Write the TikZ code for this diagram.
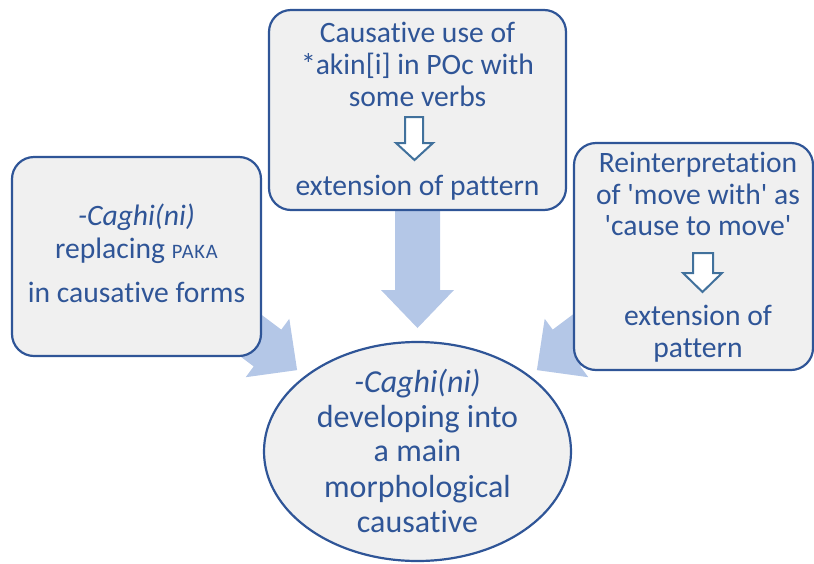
\documentclass[tikz,border=0pt]{standalone}
\usepackage{fontspec}
\newfontfamily\carlitofont{Carlito}[Ligatures={NoCommon}, RawFeature={-clig}]
\usetikzlibrary{shapes.geometric}
\definecolor{txtblue}{HTML}{2F5597}
\definecolor{edgeblue}{HTML}{2F5597}
\definecolor{boxfill}{HTML}{F0F0F0}
\definecolor{bigarrow}{HTML}{B4C7E7}
\definecolor{smallarrow}{HTML}{41719C}
\newcommand{\smallcapsword}[1]{{\fontsize{20.5}{20.5}\selectfont\addfontfeatures{LetterSpace=4}#1}}
\tikzset{
  box/.style={draw=edgeblue, fill=boxfill, line width=2.2pt, rounded corners=22pt, inner sep=0pt},
  oval/.style={draw=edgeblue, fill=boxfill, line width=2.2pt, ellipse, inner sep=0pt},
  txt/.style={text=txtblue, anchor=base, inner sep=0pt, font=\carlitofont\fontsize{29.6}{34}\selectfont},
  bigtxt/.style={txt, font=\carlitofont\fontsize{32}{36}\selectfont},
  bigarr/.style={fill=bigarrow, draw=none},
  hollowarr/.style={fill=white, draw=smallarrow, line width=2pt, line join=miter},
}
\begin{document}
\begin{tikzpicture}[x=1pt,y=-1pt]
\useasboundingbox (0,0) rectangle (814,563);
% big arrows (behind boxes)
\fill[bigarr] (185.3,257.8) -- (281.3,329.6) -- (289.3,318.8) -- (297.1,370.1) -- (245.7,377.2) -- (253.7,366.4) -- (157.7,294.6) -- cycle;
\fill[bigarr] (648.7,257.8) -- (552.7,329.6) -- (544.7,318.8) -- (536.9,370.1) -- (588.3,377.2) -- (580.3,366.4) -- (676.3,294.6) -- cycle;
\fill[bigarr] (395,190) -- (395,290) -- (381,290) -- (417.5,328) -- (454,290) -- (440,290) -- (440,190) -- cycle;
% boxes
\node[box, minimum width=249pt, minimum height=199pt] (left) at (136.5,256.5) {};
\node[box, minimum width=297pt, minimum height=200pt] (top) at (417.5,110) {};
\node[box, minimum width=239pt, minimum height=227pt] (right) at (693.5,256.5) {};
\node[oval, minimum width=307pt, minimum height=219pt] (goal) at (417.5,451.5) {};
% small hollow arrows
\draw[hollowarr] (405,117) -- (423,117) -- (423,143) -- (433,143) -- (414.5,160) -- (396,143) -- (405,143) -- cycle;
\draw[hollowarr] (693,253) -- (713,253) -- (713,273) -- (722,273) -- (702.5,292) -- (683,273) -- (693,273) -- cycle;
% top box text
\node[txt] (t1) at (417.5,42) {Causative use of};
\node[txt] (t2) at (417.5,74) {*akin[i] in POc with};
\node[txt] (t3) at (417.5,106) {some verbs};
\node[txt] (t4) at (417.5,195) {extension of pattern};
% left box text
\node[txt] (l1) at (136.5,225) {\itshape -Caghi(ni)};
\node[txt] (l2) at (136.5,258) {replacing \smallcapsword{PAKA}};
\node[txt] (l3) at (136.5,302) {in causative forms};
% right box text
\node[txt] (r1) at (698,172) {Reinterpretation};
\node[txt] (r2) at (698,204) {of 'move with' as};
\node[txt] (r3) at (698,235) {'cause to move'};
\node[txt] (r4) at (698,325) {extension of};
\node[txt] (r5) at (698,357) {pattern};
% ellipse text
\node[bigtxt] (e1) at (417.5,392) {\itshape -Caghi(ni)};
\node[bigtxt] (e2) at (417.5,427) {developing into};
\node[bigtxt] (e3) at (417.5,461) {a main};
\node[bigtxt] (e4) at (417.5,497) {morphological};
\node[bigtxt] (e5) at (417.5,532) {causative};
\end{tikzpicture}
\end{document}
